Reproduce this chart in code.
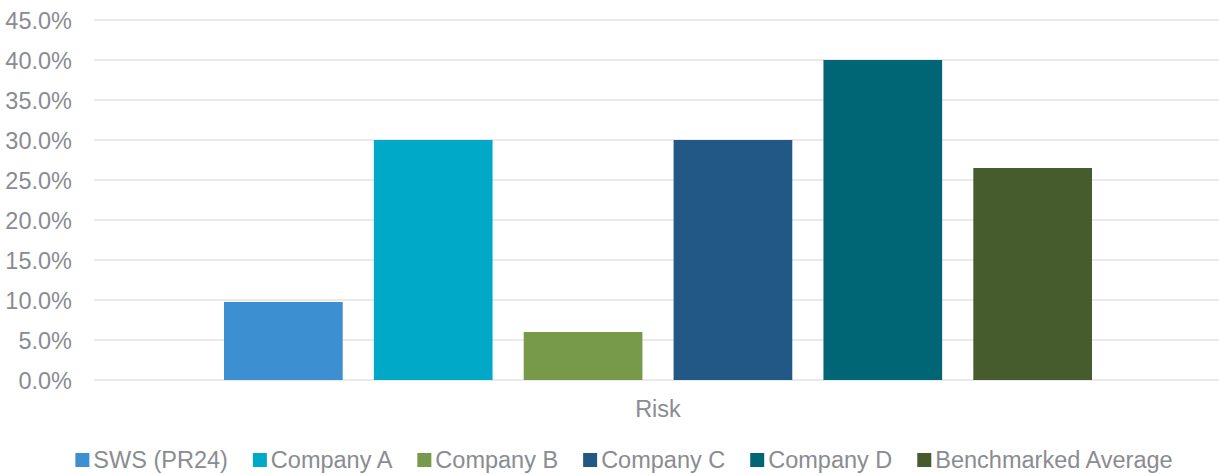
<!DOCTYPE html>
<html>
<head>
<meta charset="utf-8">
<script src="https://cdn.jsdelivr.net/npm/d3@7"></script>
<style>
  body { margin: 0; background: #fff; }
  text { font-family: "Liberation Sans", Arial, sans-serif; fill: #898c91; }
</style>
</head>
<body>
<div id="chart"></div>
<script>
// Chart data
const categories = ["Risk"];
const seriesNames = ["SWS (PR24)", "Company A", "Company B", "Company C", "Company D", "Benchmarked Average"];
const seriesValues = [9.75, 30, 6, 30, 40, 26.5];
const seriesColors = ["#3c8fd0", "#00a9c7", "#77994a", "#225885", "#006676", "#475c2d"];
const yTicks = [0, 5, 10, 15, 20, 25, 30, 35, 40, 45];

const width = 1219;
const height = 475;
const margin = { top: 20, right: 0, bottom: 95, left: 94 };

const svg = d3
  .select("#chart")
  .append("svg")
  .attr("width", width)
  .attr("height", height);

const y = d3
  .scaleLinear()
  .domain([0, 45])
  .range([height - margin.bottom, margin.top]);

// category band is offset a little to match the plot area
const x0 = d3
  .scaleBand()
  .domain(categories)
  .range([margin.left + 3, width - margin.right])
  .paddingInner(0)
  .paddingOuter(0.103);

const x1 = d3
  .scaleBand()
  .domain(seriesNames)
  .range([0, x0.bandwidth()])
  .padding(0.208);

// Gridlines
svg
  .append("g")
  .selectAll("line")
  .data(yTicks)
  .enter()
  .append("line")
  .attr("x1", margin.left)
  .attr("x2", width - margin.right)
  .attr("y1", (d) => y(d))
  .attr("y2", (d) => y(d))
  .attr("stroke", "#e3e3e3")
  .attr("stroke-width", 1.3);

// Y axis labels
const yAxis = d3
  .axisLeft(y)
  .tickValues(yTicks)
  .tickSize(0)
  .tickPadding(0)
  .tickFormat((d) => d.toFixed(1) + "%");

svg
  .append("g")
  .attr("transform", `translate(72, 0)`)
  .call(yAxis)
  .call((g) => g.select(".domain").remove())
  .selectAll("text")
  .attr("font-size", "23.5px")
  .attr("fill", "#898c91")
  .attr("dy", "0.36em");

// Bars
const group = svg
  .selectAll("g.category")
  .data(categories)
  .enter()
  .append("g")
  .attr("class", "category")
  .attr("transform", (d) => `translate(${x0(d)}, 0)`);

group
  .selectAll("rect")
  .data(seriesNames.map((name, i) => ({ name, value: seriesValues[i], color: seriesColors[i] })))
  .enter()
  .append("rect")
  .attr("x", (d) => x1(d.name))
  .attr("y", (d) => y(d.value))
  .attr("width", x1.bandwidth())
  .attr("height", (d) => y(0) - y(d.value))
  .attr("fill", (d) => d.color);

// Category label
svg
  .selectAll("text.cat")
  .data(categories)
  .enter()
  .append("text")
  .attr("class", "cat")
  .attr("x", (d) => x0(d) + x0.bandwidth() / 2)
  .attr("y", 417)
  .attr("text-anchor", "middle")
  .attr("font-size", "23.5px")
  .text((d) => d);

// Legend
const legend = svg.append("g").attr("class", "legend");
const boxSize = 14;
const boxGap = 4;
const itemGap = 25;
let cursor = 0;
seriesNames.forEach((name, i) => {
  const item = legend.append("g").attr("transform", `translate(${cursor}, 0)`);
  item
    .append("rect")
    .attr("x", 0)
    .attr("y", -boxSize - 1)
    .attr("width", boxSize)
    .attr("height", boxSize)
    .attr("fill", seriesColors[i]);
  const label = item
    .append("text")
    .attr("x", boxSize + boxGap)
    .attr("y", 0)
    .attr("font-size", "23.5px")
    .text(name);
  cursor += boxSize + boxGap + label.node().getComputedTextLength() + itemGap;
});
const legendWidth = cursor - itemGap;
legend.attr("transform", `translate(${624 - legendWidth / 2}, 468)`);
</script>
</body>
</html>
